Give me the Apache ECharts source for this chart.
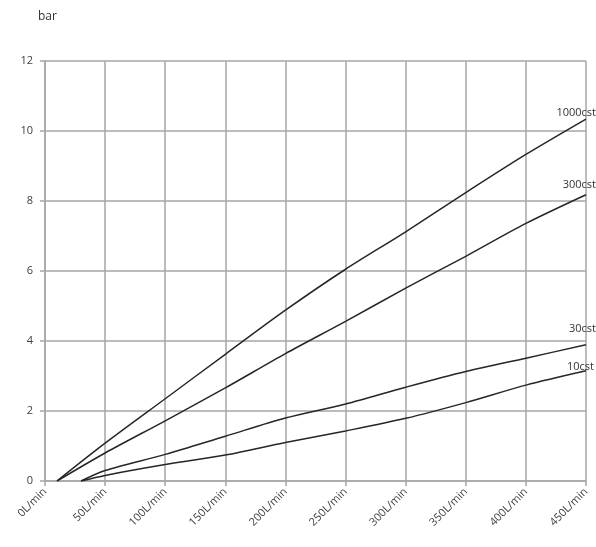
<!DOCTYPE html>
<html>
<head>
<meta charset="utf-8">
<script src="https://cdn.jsdelivr.net/npm/echarts@6/dist/echarts.min.js"></script>
<style>
  html, body { margin: 0; padding: 0; background: #fff; }
  #chart { width: 596px; height: 547px; }
</style>
</head>
<body>
<div id="chart"></div>
<script>
// Pressure drop (bar) against flow rate (L/min) for four viscosities
const flowHigh = [10, 50, 100, 150, 200, 250, 300, 350, 400, 450];
const flowLow  = [30, 50, 100, 150, 200, 250, 300, 350, 400, 450];
const cst1000 = [0, 1.08, 2.35, 3.62, 4.88, 6.05, 7.12, 8.24, 9.33, 10.34];
const cst300  = [0, 0.80, 1.72, 2.66, 3.64, 4.56, 5.51, 6.42, 7.36, 8.18];
const cst30   = [0, 0.30, 0.76, 1.28, 1.80, 2.20, 2.68, 3.13, 3.51, 3.89];
const cst10   = [0, 0.16, 0.47, 0.74, 1.10, 1.43, 1.79, 2.24, 2.74, 3.15];
const seriesNames = ['1000cst', '300cst', '30cst', '10cst'];
const yTicks = [0, 2, 4, 6, 8, 10, 12];

const pairs = (xs, ys) => xs.map((x, i) => [x, ys[i]]);

const lineColor = '#262626';
const gridColor = '#a6a6a6';
const textColor = '#404040';
const fontFamily = 'Open Sans, Liberation Sans, sans-serif';

function makeSeries(name, xs, ys, offset) {
  return {
    name: name,
    type: 'line',
    data: pairs(xs, ys),
    smooth: 0.3,
    showSymbol: false,
    symbol: 'none',
    lineStyle: { color: lineColor, width: 1.5 },
    endLabel: {
      show: true,
      formatter: name,
      align: 'right',
      verticalAlign: 'bottom',
      offset: offset,
      color: '#333',
      fontFamily: fontFamily,
      fontSize: 11
    },
    animation: false
  };
}

const chart = echarts.init(document.getElementById('chart'), null, { renderer: 'canvas' });
chart.setOption({
  backgroundColor: '#fff',
  animation: false,
  graphic: [{
    type: 'text',
    left: 38,
    top: 11,
    style: { text: 'bar', fill: '#333', font: '12px "Open Sans", "Liberation Sans", sans-serif' }
  }],
  grid: { left: 45, right: 10, top: 61, bottom: 66, containLabel: false },
  xAxis: {
    type: 'value',
    min: 0,
    max: 450,
    interval: 50,
    axisLine: { show: true, lineStyle: { color: gridColor, width: 1.5 } },
    axisTick: { show: true, length: 5, lineStyle: { color: gridColor, width: 1.5 } },
    splitLine: { show: true, lineStyle: { color: gridColor, width: 1.5 } },
    axisLabel: {
      rotate: 45,
      margin: 9,
      color: textColor,
      fontFamily: fontFamily,
      fontSize: 11,
      formatter: v => v + 'L/min'
    }
  },
  yAxis: {
    type: 'value',
    min: yTicks[0],
    max: yTicks[yTicks.length - 1],
    interval: 2,
    axisLine: { show: true, lineStyle: { color: gridColor, width: 1.5 } },
    axisTick: { show: true, length: 5, lineStyle: { color: gridColor, width: 1.5 } },
    splitLine: { show: true, lineStyle: { color: gridColor, width: 1.5 } },
    axisLabel: {
      margin: 12,
      color: textColor,
      fontFamily: fontFamily,
      fontSize: 11
    }
  },
  series: [
    makeSeries(seriesNames[0], flowHigh, cst1000, [2, -1]),
    makeSeries(seriesNames[1], flowHigh, cst300, [2, -4]),
    makeSeries(seriesNames[2], flowLow, cst30, [2, -10]),
    makeSeries(seriesNames[3], flowLow, cst10, [0, 2])
  ]
});
</script>
</body>
</html>
